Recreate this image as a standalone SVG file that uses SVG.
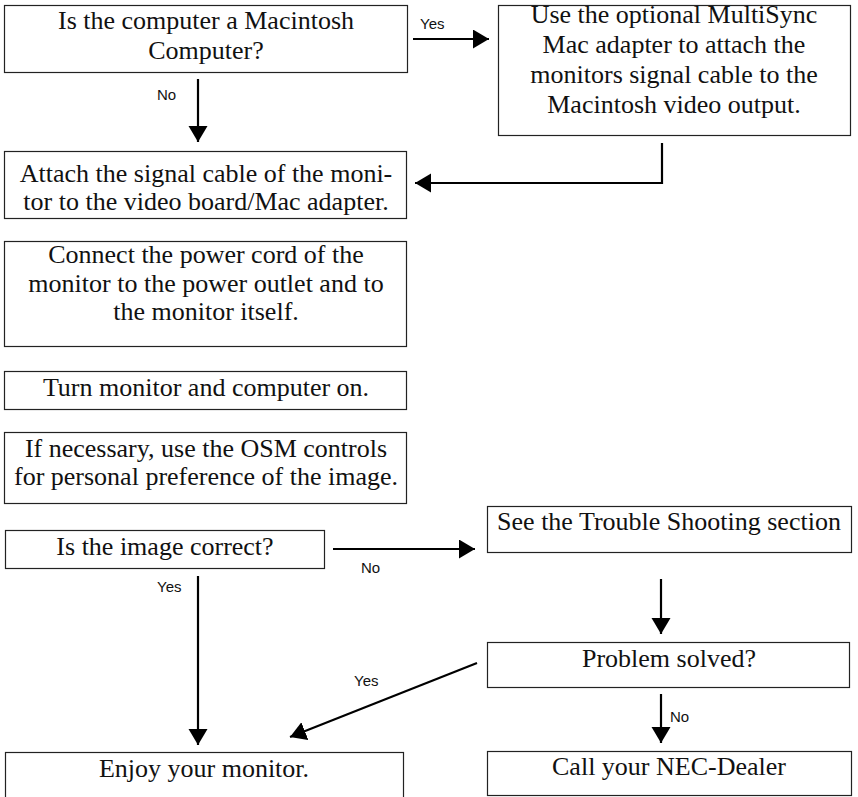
<svg xmlns="http://www.w3.org/2000/svg" width="858" height="797" viewBox="0 0 858 797">
<style>
.box{fill:#fff;stroke:#222;stroke-width:1.2}
.t{font-family:'Liberation Serif','Times New Roman','DejaVu Serif',serif;font-size:26px;fill:#111;text-anchor:middle}
.lbl{font-family:'Liberation Sans',Arial,sans-serif;font-size:15px;fill:#111}
.c{fill:none;stroke:#000;stroke-width:2.2}
</style>
<defs>
<marker id="ah" markerUnits="userSpaceOnUse" markerWidth="17" markerHeight="20" refX="16" refY="9.5" orient="auto">
<path d="M0,0 L16,9.5 L0,19 z" fill="#000"/>
</marker>
</defs>
<rect width="858" height="797" fill="#fff"/>
<g id="n1"><rect class="box" x="4.5" y="5.5" width="403" height="67"/>
<text class="t" font-family="Liberation Serif, serif" x="206" y="29">Is the computer a Macintosh</text>
<text class="t" font-family="Liberation Serif, serif" x="206" y="59">Computer?</text></g>
<g id="n3"><rect class="box" x="498.5" y="5.5" width="352" height="130"/>
<text class="t" font-family="Liberation Serif, serif" x="674" y="23">Use the optional MultiSync</text>
<text class="t" font-family="Liberation Serif, serif" x="674" y="53">Mac adapter to attach the</text>
<text class="t" font-family="Liberation Serif, serif" x="674" y="83">monitors signal cable to the</text>
<text class="t" font-family="Liberation Serif, serif" x="674" y="113">Macintosh video output.</text></g>
<g id="n2"><rect class="box" x="4.5" y="151.5" width="402" height="67"/>
<text class="t" font-family="Liberation Serif, serif" x="206" y="182">Attach the signal cable of the moni-</text>
<text class="t" font-family="Liberation Serif, serif" x="206" y="210">tor to the video board/Mac adapter.</text></g>
<g id="n4"><rect class="box" x="4.5" y="241.5" width="402" height="105"/>
<text class="t" font-family="Liberation Serif, serif" x="206" y="263">Connect the power cord of the</text>
<text class="t" font-family="Liberation Serif, serif" x="206" y="292">monitor to the power outlet and to</text>
<text class="t" font-family="Liberation Serif, serif" x="206" y="320">the monitor itself.</text></g>
<g id="n5"><rect class="box" x="4.5" y="371.5" width="402" height="38"/>
<text class="t" font-family="Liberation Serif, serif" x="206" y="396">Turn monitor and computer on.</text></g>
<g id="n6"><rect class="box" x="4.5" y="432.5" width="402" height="71"/>
<text class="t" font-family="Liberation Serif, serif" x="206" y="457">If necessary, use the OSM controls</text>
<text class="t" font-family="Liberation Serif, serif" x="206" y="485">for personal preference of the image.</text></g>
<g id="n7"><rect class="box" x="5.5" y="530.5" width="319" height="38"/>
<text class="t" font-family="Liberation Serif, serif" x="165" y="555">Is the image correct?</text></g>
<g id="n8"><rect class="box" x="487.5" y="506.5" width="364" height="46"/>
<text class="t" font-family="Liberation Serif, serif" x="669" y="530">See the Trouble Shooting section</text></g>
<g id="n9"><rect class="box" x="487.5" y="642.5" width="362" height="45"/>
<text class="t" font-family="Liberation Serif, serif" x="669" y="667">Problem solved?</text></g>
<g id="n10"><rect class="box" x="487.5" y="751.5" width="364" height="44"/>
<text class="t" font-family="Liberation Serif, serif" x="669" y="775">Call your NEC-Dealer</text></g>
<g id="n11"><rect class="box" x="5.5" y="752.5" width="398" height="50"/>
<text class="t" font-family="Liberation Serif, serif" x="204" y="777">Enjoy your monitor.</text></g>
<g id="connectors">
<line class="c" x1="413" y1="39" x2="489" y2="39" marker-end="url(#ah)"/>
<line class="c" x1="198" y1="79" x2="198" y2="142" marker-end="url(#ah)"/>
<polyline class="c" points="662,143 662,183 415,183" marker-end="url(#ah)"/>
<line class="c" x1="333" y1="549" x2="475" y2="549" marker-end="url(#ah)"/>
<line class="c" x1="661" y1="579" x2="661" y2="634" marker-end="url(#ah)"/>
<line class="c" x1="661" y1="694" x2="661" y2="743" marker-end="url(#ah)"/>
<line class="c" x1="198" y1="576" x2="198" y2="745" marker-end="url(#ah)"/>
<line class="c" x1="477" y1="663" x2="290" y2="737" marker-end="url(#ah)"/>
<text class="lbl" x="420" y="29">Yes</text>
<text class="lbl" x="157" y="100">No</text>
<text class="lbl" x="361" y="573">No</text>
<text class="lbl" x="157" y="592">Yes</text>
<text class="lbl" x="354" y="686">Yes</text>
<text class="lbl" x="670" y="722">No</text>
</g>
</svg>
